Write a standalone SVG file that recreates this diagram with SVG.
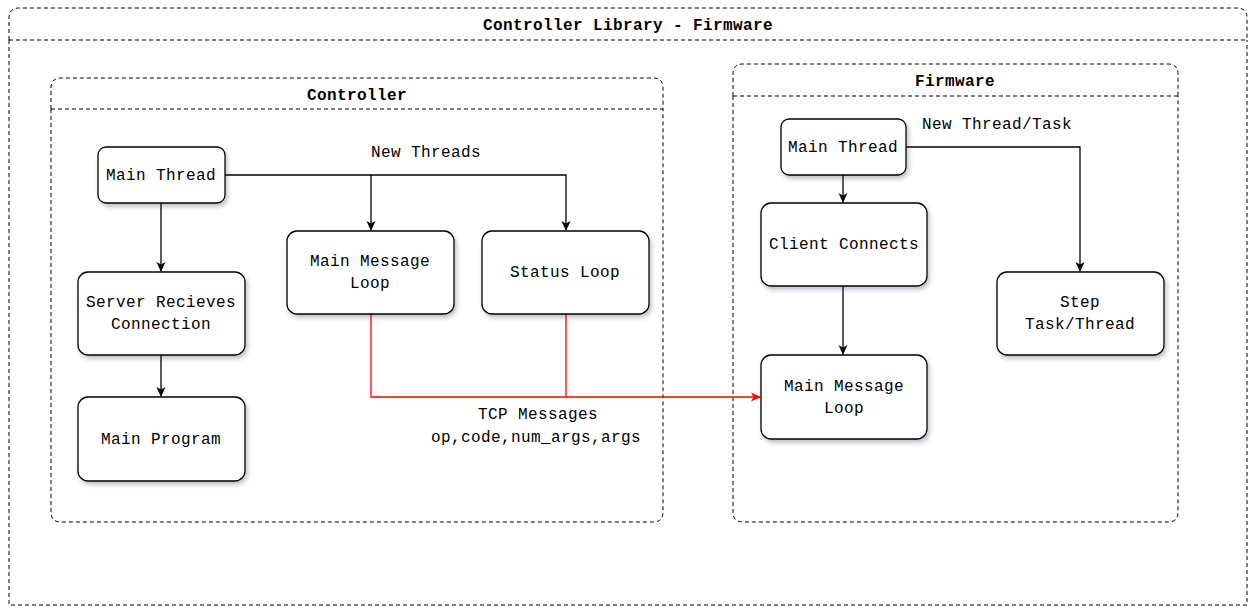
<svg xmlns="http://www.w3.org/2000/svg" width="1249" height="607" viewBox="0 0 1249 607">
<style>
.cont{fill:none;stroke:#000;stroke-width:1;stroke-dasharray:4 3}
.node{fill:#fff;stroke:#000;stroke-width:1.3;filter:url(#sh)}
.t{font-family:"Liberation Mono","DejaVu Sans Mono",monospace;font-size:16px;letter-spacing:0.4px;fill:#000;text-anchor:middle}
.b{font-weight:bold}
.e{fill:none;stroke:#000;stroke-width:1.3}
.r{fill:none;stroke:#ff0000;stroke-width:1.3}
</style>
<defs>
<filter id="sh" x="-10%" y="-10%" width="130%" height="140%">
<feDropShadow dx="2" dy="3" stdDeviation="2" flood-color="#334" flood-opacity="0.3"/>
</filter>
<marker id="ab" markerWidth="12" markerHeight="12" refX="10" refY="6" orient="auto" markerUnits="userSpaceOnUse">
<path d="M1,1.5 L11,6 L1,10.5 L3.5,6 Z" fill="#000"/>
</marker>
<marker id="ar" markerWidth="12" markerHeight="12" refX="10" refY="6" orient="auto" markerUnits="userSpaceOnUse">
<path d="M1,1.5 L11,6 L1,10.5 L3.5,6 Z" fill="#ff0000"/>
</marker>
</defs>
<rect width="1249" height="607" fill="#fff"/>
<g id="outer">
<path class="cont" d="M9,40 V18 Q9,8 19,8 H1237 Q1247,8 1247,18 V40 M9,40 H1247 M9,40 V605 H1247 V40"/>
<text class="t b" x="628" y="30">Controller Library - Firmware</text>
</g>
<g id="controller">
<path class="cont" d="M51,109 V88 Q51,78 61,78 H653 Q663,78 663,88 V109 M51,109 H663 M51,109 V512 Q51,522 61,522 H653 Q663,522 663,512 V109"/>
<text class="t b" x="357" y="100">Controller</text>
</g>
<g id="firmware">
<path class="cont" d="M733,96 V74 Q733,64 743,64 H1168 Q1178,64 1178,74 V96 M733,96 H1178 M733,96 V512 Q733,522 743,522 H1168 Q1178,522 1178,512 V96"/>
<text class="t b" x="955" y="86">Firmware</text>
</g>
<g id="connectors">
<path class="e" d="M161,203 V271" marker-end="url(#ab)"/>
<path class="e" d="M225,175 H566 V230" marker-end="url(#ab)"/>
<path class="e" d="M371,175 V230" marker-end="url(#ab)"/>
<path class="e" d="M161,355 V396" marker-end="url(#ab)"/>
<path class="r" d="M371,314 V397 H760" marker-end="url(#ar)"/>
<path class="r" d="M566,314 V397"/>
<path class="e" d="M843,175 V202" marker-end="url(#ab)"/>
<path class="e" d="M906,147 H1080 V271" marker-end="url(#ab)"/>
<path class="e" d="M843,286 V354" marker-end="url(#ab)"/>
<text class="t" x="426" y="157">New Threads</text>
<text class="t" x="538" y="419">TCP Messages</text>
<text class="t" x="536" y="442">op,code,num_args,args</text>
<text class="t" x="997" y="129">New Thread/Task</text>
</g>
<g id="c-main-thread">
<rect class="node" x="98" y="147" width="127" height="56" rx="8"/>
<text class="t" x="161" y="180">Main Thread</text>
</g>
<g id="c-server">
<rect class="node" x="78" y="272" width="167" height="83" rx="10"/>
<text class="t" x="161" y="307">Server Recieves</text>
<text class="t" x="161" y="329">Connection</text>
</g>
<g id="c-main-program">
<rect class="node" x="78" y="397" width="167" height="84" rx="10"/>
<text class="t" x="161" y="444">Main Program</text>
</g>
<g id="c-main-message-loop">
<rect class="node" x="287" y="231" width="167" height="83" rx="10"/>
<text class="t" x="370" y="266">Main Message</text>
<text class="t" x="370" y="288">Loop</text>
</g>
<g id="c-status-loop">
<rect class="node" x="482" y="231" width="167" height="83" rx="10"/>
<text class="t" x="565" y="277">Status Loop</text>
</g>
<g id="f-main-thread">
<rect class="node" x="781" y="119" width="125" height="56" rx="8"/>
<text class="t" x="843" y="152">Main Thread</text>
</g>
<g id="f-client-connects">
<rect class="node" x="761" y="203" width="166" height="83" rx="10"/>
<text class="t" x="844" y="249">Client Connects</text>
</g>
<g id="f-main-message-loop">
<rect class="node" x="761" y="355" width="166" height="84" rx="10"/>
<text class="t" x="844" y="391">Main Message</text>
<text class="t" x="844" y="413">Loop</text>
</g>
<g id="f-step-task">
<rect class="node" x="997" y="272" width="167" height="83" rx="10"/>
<text class="t" x="1080" y="307">Step</text>
<text class="t" x="1080" y="329">Task/Thread</text>
</g>
</svg>
